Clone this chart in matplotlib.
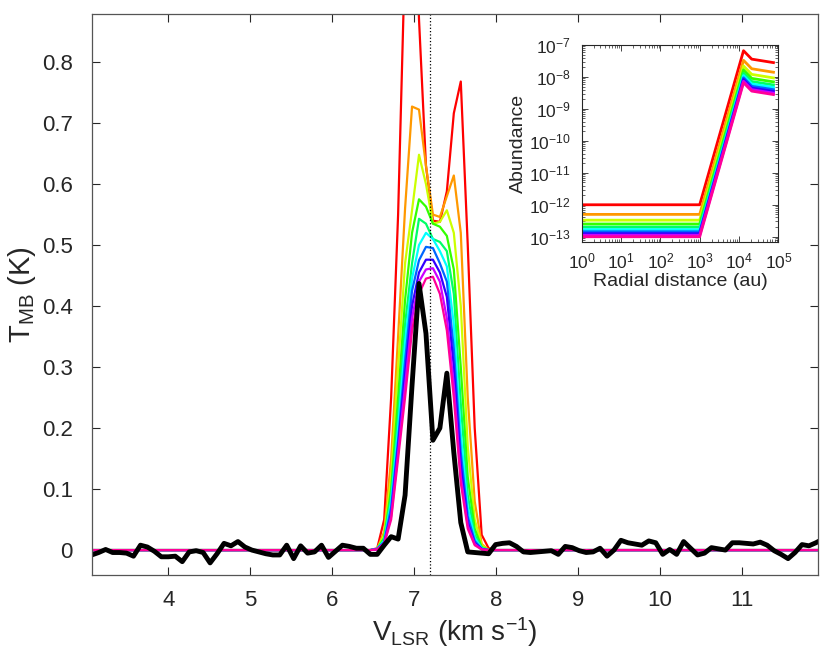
import numpy as np
import matplotlib
matplotlib.use('Agg')
import matplotlib.pyplot as plt
from matplotlib.ticker import LogLocator, NullFormatter

plt.rcParams['font.family'] = ['Liberation Sans', 'DejaVu Sans']
plt.rcParams['mathtext.default'] = 'regular'

# spectrum channels (km/s)
V_START = 3.065
CHANNEL = 0.085

obs_T = [-0.008, -0.004, 0.001, -0.004, -0.004, -0.005, -0.010, 0.008, 0.005, -0.002,
         -0.011, -0.011, -0.010, -0.019, -0.003, -0.001, -0.004, -0.021, -0.006, 0.011,
         0.007, 0.014, 0.005, 0.000, -0.003, -0.006, -0.008, -0.008, 0.008, -0.014,
         0.007, -0.005, -0.003, 0.008, -0.012, -0.002, 0.008, 0.006, 0.003, 0.003,
         -0.007, -0.007, 0.008, 0.022, 0.018, 0.09, 0.27, 0.437, 0.355, 0.18,
         0.20, 0.29, 0.16, 0.045, -0.003, -0.004, -0.005, -0.006, 0.009, 0.011,
         0.012, 0.006, -0.003, -0.004, -0.003, -0.002, -0.001, -0.007, 0.006, 0.004,
         -0.001, -0.004, -0.003, 0.003, -0.010, 0.000, 0.016, 0.012, 0.010, 0.008,
         0.015, 0.012, -0.007, 0.001, -0.007, 0.014, 0.003, -0.008, -0.005, 0.004,
         0.002, 0.000, 0.012, 0.012, 0.011, 0.010, 0.013, 0.008, -0.001, -0.007,
         -0.014, -0.004, 0.009, 0.007, 0.012, 0.018]

# model line profiles, channels 40..58 (zero elsewhere)
LINE_FIRST = 40
mod_red     = [0, 0.003, 0.05, 0.25, 0.55, 0.98, 1.25, 0.87, 0.63, 0.54, 0.538, 0.588, 0.716, 0.768, 0.50, 0.20, 0.025, 0.003, 0]
mod_orange  = [0, 0.002, 0.03, 0.15, 0.35, 0.56, 0.727, 0.722, 0.63, 0.55, 0.546, 0.58, 0.614, 0.52, 0.25, 0.08, 0.01, 0, 0]
mod_yellow  = [0, 0.002, 0.025, 0.12, 0.30, 0.47, 0.557, 0.648, 0.60, 0.535, 0.538, 0.557, 0.52, 0.40, 0.17, 0.05, 0.008, 0, 0]
mod_green   = [0, 0.002, 0.02, 0.10, 0.25, 0.41, 0.52, 0.575, 0.563, 0.535, 0.53, 0.515, 0.46, 0.30, 0.12, 0.035, 0.005, 0, 0]
mod_green2  = [0, 0.002, 0.018, 0.09, 0.22, 0.37, 0.47, 0.543, 0.535, 0.51, 0.505, 0.49, 0.42, 0.24, 0.09, 0.025, 0.004, 0, 0]
mod_cyan    = [0, 0.002, 0.015, 0.08, 0.20, 0.34, 0.445, 0.50, 0.52, 0.51, 0.49, 0.465, 0.37, 0.19, 0.07, 0.02, 0.003, 0, 0]
mod_blue    = [0, 0.002, 0.013, 0.07, 0.18, 0.31, 0.425, 0.475, 0.497, 0.495, 0.47, 0.44, 0.33, 0.16, 0.055, 0.015, 0.002, 0, 0]
mod_indigo  = [0, 0.001, 0.012, 0.06, 0.17, 0.29, 0.40, 0.455, 0.476, 0.476, 0.455, 0.415, 0.30, 0.14, 0.045, 0.012, 0.002, 0, 0]
mod_magenta = [0, 0.001, 0.011, 0.055, 0.16, 0.27, 0.38, 0.44, 0.46, 0.462, 0.44, 0.38, 0.27, 0.12, 0.04, 0.01, 0.001, 0, 0]
mod_pink    = [0, 0.001, 0.01, 0.05, 0.15, 0.25, 0.36, 0.42, 0.445, 0.448, 0.42, 0.36, 0.25, 0.11, 0.035, 0.008, 0.001, 0, 0]
models = [mod_red, mod_orange, mod_yellow, mod_green, mod_green2,
          mod_cyan, mod_blue, mod_indigo, mod_magenta, mod_pink]
colours = ['#ff0000', '#ff9900', '#ccff00', '#33ff00', '#00ff66',
           '#00ffff', '#0066ff', '#3300ff', '#cc00ff', '#ff0099']

# inset abundance profiles
radius = [1, 1e3, 1.3e4, 2.1e4, 7.5e4]
abund = [
    [1.0e-12, 1.0e-12, 6.6e-8, 3.6e-8, 2.8e-8],
    [5.0e-13, 5.0e-13, 3.3e-8, 1.8e-8, 1.4e-8],
    [3.3e-13, 3.3e-13, 2.2e-8, 1.2e-8, 9.3e-9],
    [2.5e-13, 2.5e-13, 1.65e-8, 9.0e-9, 7.0e-9],
    [2.0e-13, 2.0e-13, 1.3e-8, 7.2e-9, 5.6e-9],
    [1.67e-13, 1.67e-13, 1.1e-8, 6.0e-9, 4.7e-9],
    [1.43e-13, 1.43e-13, 9.4e-9, 5.1e-9, 4.0e-9],
    [1.25e-13, 1.25e-13, 8.3e-9, 4.5e-9, 3.5e-9],
    [1.11e-13, 1.11e-13, 7.3e-9, 4.0e-9, 3.1e-9],
    [1.0e-13, 1.0e-13, 6.6e-9, 3.6e-9, 2.8e-9],
]

v = V_START + CHANNEL * np.arange(len(obs_T))

fig = plt.figure(figsize=(8.3, 6.58), dpi=100)
ax = fig.add_axes([0.111, 0.126, 0.8745, 0.853])
for prof, col in zip(models, colours):
    t = np.zeros(len(obs_T))
    t[LINE_FIRST:LINE_FIRST + len(prof)] = prof
    ax.plot(v, t, color=col, lw=1.6)
ax.plot(v, obs_T, color='k', lw=3.5)
ax.axvline(7.2, color='k', ls=':', lw=0.9)

ax.set_xlim(3.07, 11.93)
ax.set_ylim(-0.041, 0.879)
ax.set_xticks(range(4, 12))
ax.set_yticks(np.arange(0, 0.81, 0.1))
ax.set_yticklabels(['0', '0.1', '0.2', '0.3', '0.4', '0.5', '0.6', '0.7', '0.8'])
ax.tick_params(axis='both', direction='in', top=True, right=True, labelsize=16,
               colors='#262626', length=6, width=0.8)
ax.tick_params(axis='y', pad=14)
ax.tick_params(axis='x', pad=11)
for s in ax.spines.values():
    s.set_color('#555555')
    s.set_linewidth(0.9)
ax.set_xlabel('V$_{LSR}$ (km s$^{-1}$)', fontsize=20, color='#262626', labelpad=3)
ax.set_ylabel('T$_{MB}$ (K)', fontsize=21, color='#262626', labelpad=3)

ins = fig.add_axes([0.7008, 0.6327, 0.237, 0.299])
for ab, col in zip(abund, colours):
    ins.plot(radius, ab, color=col, lw=2.0)
ins.set_xscale('log')
ins.set_yscale('log')
ins.set_xlim(1, 1e5)
ins.set_ylim(7e-14, 1e-7)
ins.xaxis.set_major_locator(LogLocator(base=10, numticks=10))
ins.yaxis.set_major_locator(LogLocator(base=10, numticks=10))
ins.xaxis.set_minor_locator(LogLocator(base=10, subs=np.arange(2, 10), numticks=20))
ins.yaxis.set_minor_locator(LogLocator(base=10, subs=np.arange(2, 10), numticks=20))
ins.xaxis.set_minor_formatter(NullFormatter())
ins.yaxis.set_minor_formatter(NullFormatter())
ins.tick_params(which='both', direction='in', top=True, right=True, colors='#262626')
ins.tick_params(which='major', labelsize=12.5, length=4, width=0.6)
ins.tick_params(which='minor', length=2, width=0.5)
ins.tick_params(axis='x', which='major', pad=7)
ins.tick_params(axis='y', which='major', pad=8)
for s in ins.spines.values():
    s.set_color('#262626')
    s.set_linewidth(0.8)
ins.set_xlabel('Radial distance (au)', fontsize=14, color='#262626', labelpad=1)
ins.set_ylabel('Abundance', fontsize=14, color='#262626', labelpad=1)

fig.savefig('out.png', dpi=100)
